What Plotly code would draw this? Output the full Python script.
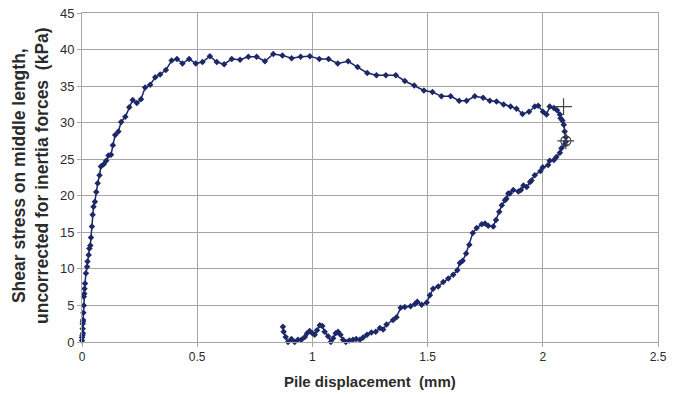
import plotly.graph_objects as go

# Pile displacement (mm) and shear stress (kPa), in time order
disp = [
    0.0, 0.0, 0.002, 0.004, 0.003, 0.003, 0.004, 0.005, 0.006, 0.008, 0.008, 0.01, 0.011,
    0.013, 0.017, 0.022, 0.024, 0.029, 0.032, 0.036, 0.039, 0.043, 0.046, 0.05, 0.056,
    0.062, 0.068, 0.076, 0.082, 0.094, 0.105, 0.115, 0.126, 0.134, 0.144, 0.158, 0.17,
    0.188, 0.205, 0.22, 0.238, 0.256, 0.274, 0.296, 0.318, 0.339, 0.364, 0.389, 0.412,
    0.436, 0.465, 0.494, 0.523, 0.555, 0.585, 0.617, 0.65, 0.686, 0.722, 0.758, 0.794,
    0.83, 0.87, 0.91, 0.949, 0.989, 1.03, 1.07, 1.11, 1.155, 1.196, 1.238, 1.278, 1.319,
    1.362, 1.401, 1.442, 1.484, 1.521, 1.56, 1.6, 1.637, 1.669, 1.705, 1.741, 1.77, 1.799,
    1.83, 1.86, 1.886, 1.912, 1.94, 1.965, 1.98, 2.001, 2.016, 2.03, 2.048, 2.062, 2.074,
    2.077, 2.085, 2.091, 2.095, 2.1, 2.1, 2.095, 2.081, 2.074, 2.059, 2.048, 2.03, 2.023,
    2.0, 1.99, 1.965, 1.951, 1.945, 1.93, 1.916, 1.905, 1.894, 1.872, 1.857, 1.85, 1.842,
    1.836, 1.822, 1.811, 1.797, 1.785, 1.763, 1.749, 1.735, 1.713, 1.696, 1.681, 1.667,
    1.652, 1.64, 1.629, 1.611, 1.59, 1.568, 1.546, 1.524, 1.51, 1.496, 1.474, 1.455,
    1.445, 1.426, 1.401, 1.383, 1.365, 1.35, 1.322, 1.307, 1.293, 1.275, 1.256, 1.237,
    1.22, 1.206, 1.19, 1.176, 1.16, 1.145, 1.133, 1.122, 1.111, 1.101, 1.09, 1.08, 1.068,
    1.053, 1.043, 1.032, 1.02, 1.01, 1.0, 0.988, 0.977, 0.967, 0.952, 0.937, 0.923,
    0.909, 0.894, 0.884, 0.875, 0.872,
]
stress = [
    0.2, 0.6, 0.9, 1.2, 1.8, 2.5, 2.8, 3.0, 4.0, 5.0, 6.2, 6.6, 7.3,
    8.0, 9.4, 10.3, 11.0, 11.9, 12.8, 13.2, 14.3, 15.8, 17.4, 18.5, 19.2,
    20.5, 21.7, 22.8, 24.0, 24.3, 24.8, 25.5, 25.6, 26.9, 28.3, 28.8, 30.1,
    30.8, 32.1, 33.1, 32.7, 33.2, 34.8, 35.2, 36.2, 36.6, 37.2, 38.5, 38.7,
    38.1, 38.7, 38.1, 38.3, 39.1, 38.3, 38.0, 38.7, 38.6, 39.0, 39.0, 38.4,
    39.4, 39.2, 38.8, 39.0, 39.1, 38.7, 38.7, 38.1, 38.4, 37.6, 36.8, 36.5, 36.5,
    36.5, 35.7, 35.1, 34.4, 34.2, 33.6, 33.6, 33.0, 33.0, 33.6, 33.4, 33.0, 32.9,
    32.5, 32.2, 31.9, 31.2, 31.5, 32.2, 32.3, 31.5, 31.1, 32.2, 32.0, 31.7, 31.1,
    30.6, 30.3, 29.7, 28.8, 28.0, 27.4, 27.0, 26.5, 25.9, 25.3, 24.9, 24.8, 24.2,
    23.9, 23.4, 22.8, 22.1, 21.9, 21.2, 21.4, 20.8, 20.6, 20.8, 20.3, 20.3, 19.6,
    19.4, 18.7, 17.8, 16.7, 15.8, 15.9, 16.2, 16.1, 15.6, 14.9, 13.3, 12.1,
    11.1, 10.8, 9.8, 9.2, 8.7, 8.2, 7.6, 7.3, 6.4, 5.4, 5.1, 5.5,
    5.2, 4.9, 4.8, 4.7, 3.4, 3.0, 2.4, 1.7, 1.9, 1.4, 1.3, 1.0,
    0.6, 0.3, 0.4, 0.3, 0.2, 0.0, 0.3, 1.0, 1.4, 1.2, 0.5, 0.0, 0.8,
    1.4, 2.2, 2.3, 1.6, 1.0, 1.2, 1.5, 1.2, 0.7, 0.3, 0.3, 0.0,
    0.4, 0.0, 0.7, 1.4, 2.1,
]

# Reference markers
plus_x = [2.09, 2.10]
plus_y = [32.2, 27.5]
circ_x = [2.10]
circ_y = [27.5]

x_ticks = [0, 0.5, 1, 1.5, 2, 2.5]
y_ticks = [0, 5, 10, 15, 20, 25, 30, 35, 40, 45]

x_title = "<b>Pile displacement  (mm)</b>"
y_title = "<b>Shear stress on middle length,<br>uncorrected for inertia forces  (kPa)</b>"

navy = "#1c2868"
grid = "#a6a6a6"
txt = "#2b2b2b"

fig = go.Figure()
fig.add_trace(go.Scatter(
    x=disp, y=stress, mode="lines+markers",
    line=dict(color=navy, width=1.5),
    marker=dict(symbol="diamond", size=5, color=navy),
    cliponaxis=False, showlegend=False,
))
fig.add_trace(go.Scatter(
    x=plus_x, y=plus_y, mode="markers",
    marker=dict(symbol="cross-thin-open", size=12, color="#444444",
                line=dict(color="#444444", width=1.2)),
    showlegend=False,
))
fig.add_trace(go.Scatter(
    x=circ_x, y=circ_y, mode="markers",
    marker=dict(symbol="circle-open", size=10, color="#444444",
                line=dict(color="#444444", width=1.2)),
    showlegend=False,
))

font_family = "Liberation Sans, Arial, sans-serif"
L, R, T, B = 82, 20, 13, 52
W, H = 678, 394
pw, ph = W - L - R, H - T - B

fig.update_layout(
    width=W, height=H,
    margin=dict(l=L, r=R, t=T, b=B),
    paper_bgcolor="white", plot_bgcolor="white",
    font=dict(family=font_family, color=txt, size=12),
    xaxis=dict(
        range=[0, 2.5], tickvals=x_ticks, ticktext=[str(v) for v in x_ticks],
        showgrid=True, gridcolor=grid, gridwidth=1,
        showline=True, linecolor=grid, linewidth=1, mirror=True,
        ticks="outside", ticklen=4, tickcolor=grid, zeroline=False,
        tickfont=dict(size=12, color=txt), automargin=False,
    ),
    yaxis=dict(
        range=[0, 45], tickvals=y_ticks, ticktext=[str(v) for v in y_ticks],
        showgrid=True, gridcolor=grid, gridwidth=1,
        showline=True, linecolor=grid, linewidth=1, mirror=True,
        ticks="outside", ticklen=4, tickcolor=grid, zeroline=False,
        tickfont=dict(size=13, color=txt), automargin=False,
    ),
    annotations=[
        dict(text=x_title, xref="paper", yref="paper",
             x=0.5, y=(T + ph - 381.5 + T) / ph - 2 * T / ph if False else (H - B - 381.5) / ph,
             xanchor="center", yanchor="middle", showarrow=False,
             font=dict(size=15, color=txt)),
        dict(text=y_title, xref="paper", yref="paper",
             x=(30 - L) / pw, y=(H - B - 176) / ph,
             xanchor="center", yanchor="middle", showarrow=False, textangle=-90,
             font=dict(size=17.5, color=txt)),
    ],
)

fig.write_html("out.html")
